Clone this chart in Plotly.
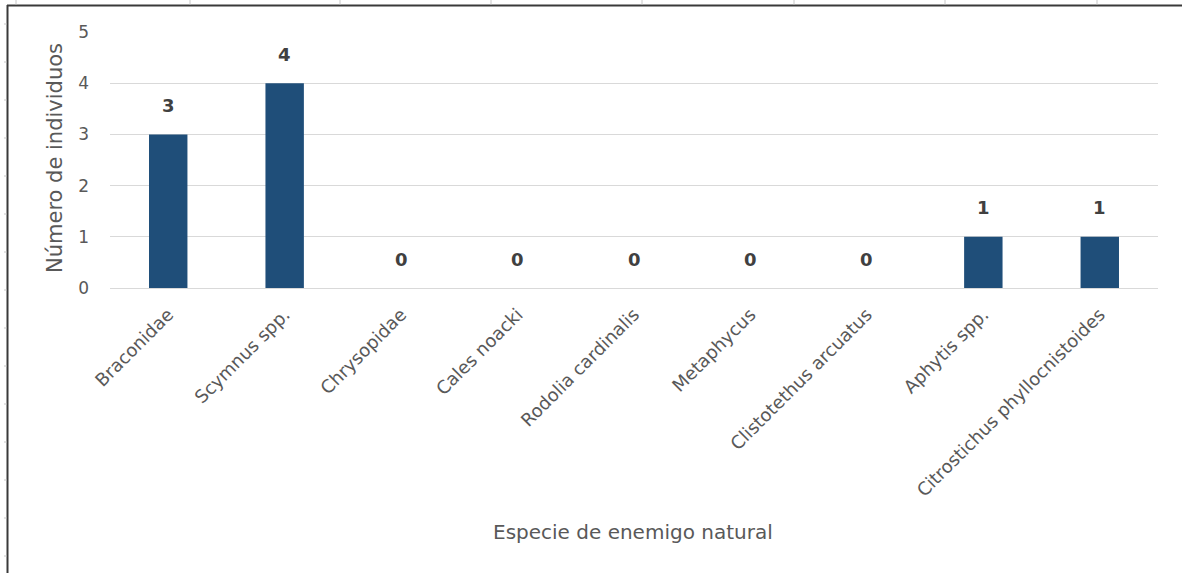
import plotly.graph_objects as go

categories = ["Braconidae", "Scymnus spp.", "Chrysopidae", "Cales noacki",
              "Rodolia cardinalis", "Metaphycus", "Clistotethus arcuatus",
              "Aphytis spp.", "Citrostichus phyllocnistoides"]
values = [3, 4, 0, 0, 0, 0, 0, 1, 1]
y_ticks = [0, 1, 2, 3, 4, 5]
x_title = "Especie de enemigo natural"
y_title = "Número de individuos"

W, H = 1182, 573
L, R, T, B = 110, 24, 32, 285
PW, PH = W - L - R, H - T - B
FONT = "'DejaVu Sans', Verdana, sans-serif"


def px_x(x):
    return (x - L) / PW


def px_y(y):
    return (H - B - y) / PH


fig = go.Figure()
fig.add_trace(go.Bar(x=categories, y=values, marker_color="#1F4E79",
                     marker_line_width=0, hoverinfo="x+y"))

annotations = []
for c, v in zip(categories, values):
    annotations.append(dict(x=c, y=v, text=f"<b>{v}</b>", showarrow=False,
                            yanchor="middle", yshift=29,
                            font=dict(size=18, color="#404040", family=FONT)))
annotations.append(dict(xref="paper", yref="paper", x=px_x(633), y=px_y(532),
                        text=x_title, showarrow=False, xanchor="center", yanchor="middle",
                        font=dict(size=20, color="#595959", family=FONT)))
annotations.append(dict(xref="paper", yref="paper", x=px_x(55), y=px_y(158),
                        text=y_title, showarrow=False, textangle=-90,
                        xanchor="center", yanchor="middle",
                        font=dict(size=21, color="#595959", family=FONT)))

# chart border (left and top) and faint sheet grid ticks
shapes = [
    dict(type="line", xref="paper", yref="paper", x0=px_x(7), x1=px_x(W),
         y0=px_y(5.5), y1=px_y(5.5), line=dict(color="#3a3a3a", width=2)),
    dict(type="line", xref="paper", yref="paper", x0=px_x(7.5), x1=px_x(7.5),
         y0=px_y(5), y1=px_y(H), line=dict(color="#3a3a3a", width=2)),
]
for tx in [16, 190, 340, 491, 642, 794, 945, 1097]:
    shapes.append(dict(type="line", xref="paper", yref="paper",
                       x0=px_x(tx), x1=px_x(tx), y0=px_y(0), y1=px_y(4.5),
                       line=dict(color="#c8c8c8", width=1)))
for ty in [24, 62, 100, 138, 176, 214, 252, 290, 328, 366, 404, 442, 480, 518, 556]:
    shapes.append(dict(type="line", xref="paper", yref="paper",
                       x0=px_x(4), x1=px_x(6.5), y0=px_y(ty), y1=px_y(ty),
                       line=dict(color="#c8c8c8", width=1)))

fig.update_layout(
    width=W, height=H,
    margin=dict(l=L, r=R, t=T, b=B),
    paper_bgcolor="white", plot_bgcolor="white",
    bargap=0.67,
    showlegend=False,
    font=dict(family=FONT, color="#595959"),
    shapes=shapes,
    annotations=annotations,
    xaxis=dict(
        tickangle=-45, tickfont=dict(size=18, color="#595959", family=FONT),
        showline=True, linecolor="#d9d9d9", linewidth=1,
        showgrid=False, ticks="", automargin=False, ticklabelstandoff=8,
    ),
    yaxis=dict(
        range=[0, 5], tickvals=y_ticks,
        tickfont=dict(size=17, color="#595959", family=FONT),
        showgrid=True, gridcolor="#d9d9d9", gridwidth=1,
        zeroline=False, showline=False, ticks="", ticklabelstandoff=20,
        automargin=False,
    ),
)

fig.write_html("out.html", config={"displayModeBar": False},
               post_script="document.body.style.margin='0';document.body.style.overflow='hidden';")
